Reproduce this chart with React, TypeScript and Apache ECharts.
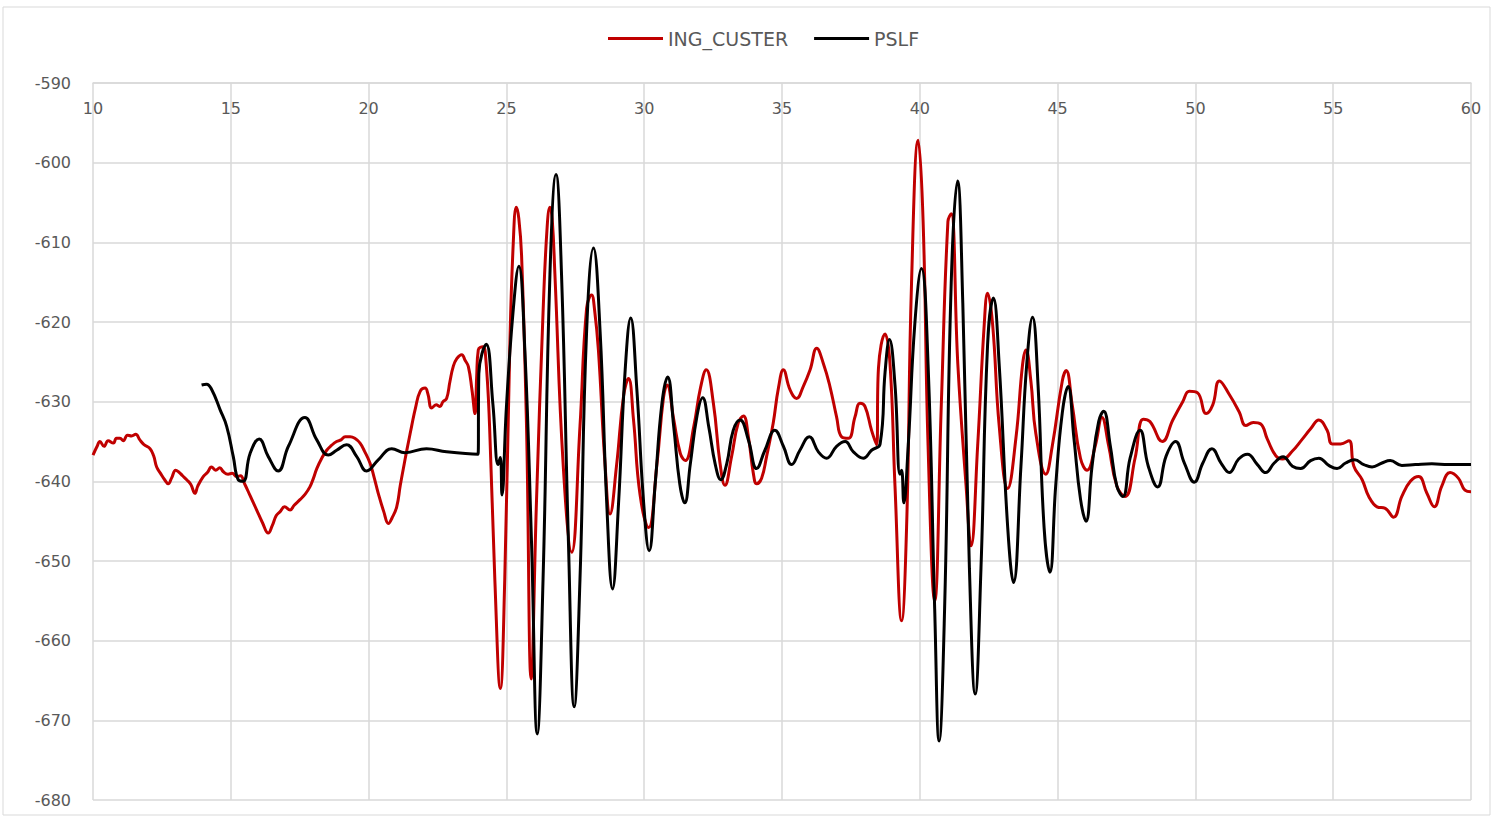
import React, { useEffect, useRef } from "react";
import * as echarts from "echarts";

const xTicks = [10, 15, 20, 25, 30, 35, 40, 45, 50, 55, 60];
const yTickMin = -680;
const yTickMax = -590;

const seriesNames = ["ING_CUSTER", "PSLF"];

const custerX = [
  10.0, 10.15, 10.25, 10.4, 10.55, 10.74, 10.85, 10.98, 11.1, 11.25, 11.4, 11.55, 11.7, 11.85,
  12.07, 12.2, 12.31, 12.45, 12.6, 12.73, 12.85, 13.0, 13.1, 13.25, 13.4, 13.55, 13.7, 13.8,
  14.0, 14.15, 14.3, 14.45, 14.6, 14.73, 14.9, 15.05, 15.21, 15.35, 15.5, 15.7, 15.94, 16.15,
  16.36, 16.5, 16.65, 16.79, 16.95, 17.15, 17.3, 17.51, 17.7, 17.87, 18.0, 18.12, 18.3, 18.48,
  18.65, 18.84, 19.0, 19.15, 19.33, 19.5, 19.69, 19.85, 20.05, 20.2, 20.35, 20.55, 20.72, 20.85,
  21.02, 21.15, 21.32, 21.45, 21.56, 21.7, 21.87, 22.05, 22.15, 22.29, 22.45, 22.59, 22.7, 22.83,
  22.95, 23.07, 23.2, 23.38, 23.5, 23.62, 23.75, 23.86, 23.92, 23.98, 24.15, 24.25, 24.39, 24.58,
  24.78, 24.94, 25.12, 25.25, 25.36, 25.45, 25.55, 25.73, 25.9, 26.09, 26.33, 26.48, 26.58, 26.66,
  26.76, 27.06, 27.37, 27.67, 27.91, 28.09, 28.2, 28.34, 28.58, 28.76, 29.0, 29.25, 29.43, 29.61,
  29.85, 30.16, 30.46, 30.7, 30.83, 31.07, 31.31, 31.49, 31.8, 32.04, 32.25, 32.51, 32.75, 32.93,
  33.17, 33.41, 33.6, 33.78, 33.96, 34.08, 34.26, 34.44, 34.68, 34.87, 35.05, 35.29, 35.53, 35.77,
  36.02, 36.26, 36.5, 36.74, 36.98, 37.16, 37.41, 37.65, 37.83, 38.01, 38.25, 38.43, 38.5, 38.74,
  38.92, 39.1, 39.34, 39.52, 39.7, 39.94, 40.12, 40.3, 40.54, 40.78, 41.02, 41.14, 41.38, 41.68,
  41.86, 42.1, 42.34, 42.46, 42.64, 42.88, 43.19, 43.49, 43.73, 43.85, 44.03, 44.21, 44.57, 44.81,
  45.17, 45.31, 45.53, 45.83, 46.07, 46.37, 46.61, 46.85, 47.15, 47.45, 47.81, 48.11, 48.35, 48.8,
  49.18, 49.54, 49.78, 50.08, 50.39, 50.63, 50.87, 51.23, 51.59, 51.83, 52.1, 52.37, 52.61, 52.92,
  53.16, 53.52, 53.88, 54.18, 54.48, 54.78, 54.96, 55.27, 55.57, 55.75, 56.05, 56.29, 56.59, 56.89,
  57.19, 57.49, 57.8, 58.1, 58.4, 58.67, 58.94, 59.24, 59.54, 59.78, 60.0,
];
const custerY = [
  -636.7, -635.6, -635.0, -635.6, -634.9, -635.2, -634.6, -634.6, -634.9, -634.2, -634.3, -634.1, -634.8, -635.4,
  -635.9, -636.8, -638.2, -639.0, -639.8, -640.3, -639.6, -638.6, -638.8, -639.3, -639.8, -640.4, -641.5, -640.6,
  -639.4, -638.9, -638.2, -638.6, -638.3, -638.8, -639.1, -639.0, -639.4, -639.3, -640.3, -641.8, -643.6, -645.2,
  -646.5, -645.6, -644.3, -643.8, -643.2, -643.6, -643.0, -642.3, -641.6, -640.7, -639.6, -638.4, -637.1, -636.1,
  -635.5, -635.0, -634.8, -634.4, -634.4, -634.6, -635.2, -636.2, -637.7, -639.5, -641.5, -643.8, -645.3, -644.6,
  -643.2, -640.5, -637.3, -635.0, -633.1, -630.8, -628.7, -628.3, -629.0, -630.8, -630.4, -630.6, -630.0, -629.6,
  -627.5, -625.6, -624.6, -624.1, -624.8, -625.6, -628.5, -631.5, -627.0, -623.5, -623.1, -624.5, -633.1, -652.3,
  -666.0, -652.3, -623.6, -610.0, -605.6, -607.0, -611.6, -633.1, -664.8, -642.7, -618.8, -608.0, -605.6, -607.0,
  -614.0, -637.9, -648.9, -633.1, -618.3, -616.6, -618.5, -623.6, -637.9, -644.1, -637.9, -629.3, -627.1, -632.2,
  -641.7, -645.8, -637.9, -629.5, -627.9, -632.2, -636.5, -637.4, -633.1, -628.3, -626.0, -630.2, -637.7, -640.5,
  -636.9, -632.7, -631.8, -634.4, -639.0, -640.3, -639.6, -636.9, -632.7, -628.3, -626.0, -628.5, -629.6, -628.1,
  -626.0, -623.3, -625.2, -628.1, -631.9, -634.4, -634.6, -631.9, -630.2, -630.6, -633.6, -635.4, -625.8, -621.5,
  -625.3, -640.6, -657.5, -645.8, -615.1, -597.2, -607.4, -635.5, -655.0, -630.4, -607.4, -606.4, -625.3, -640.6,
  -648.1, -635.5, -620.2, -616.4, -620.2, -633.0, -640.9, -634.5, -625.3, -623.5, -627.4, -634.0, -639.1, -635.5,
  -627.4, -626.1, -630.4, -637.1, -638.6, -635.5, -632.0, -635.5, -640.6, -641.9, -637.1, -632.2, -632.5, -635.0,
  -632.3, -630.0, -628.7, -628.9, -631.5, -630.4, -627.4, -629.1, -631.3, -633.0, -632.6, -632.8, -634.7, -636.8,
  -637.2, -636.2, -634.7, -633.4, -632.3, -633.6, -635.3, -635.3, -634.9, -638.1, -639.8, -641.9, -643.2, -643.4,
  -644.5, -641.9, -640.0, -639.4, -641.5, -643.2, -640.6, -638.9, -639.6, -641.1, -641.3,
];

const pslfX = [
  13.94, 14.12, 14.31, 14.61, 14.85, 15.09, 15.27, 15.45, 15.7, 16.03, 16.36, 16.72, 17.09, 17.69,
  18.12, 18.54, 18.84, 19.2, 19.57, 19.93, 20.35, 20.84, 21.32, 22.1, 22.83, 23.97, 24.0, 24.27,
  24.51, 24.7, 24.78, 24.84, 25.0, 25.24, 25.45, 25.67, 25.91, 26.12, 26.33, 26.58, 26.8, 27.0,
  27.25, 27.46, 27.67, 27.91, 28.16, 28.4, 28.64, 28.85, 29.07, 29.31, 29.51, 29.73, 29.98, 30.18,
  30.4, 30.64, 30.85, 31.07, 31.29, 31.47, 31.67, 31.92, 32.12, 32.34, 32.58, 32.78, 33.0, 33.23,
  33.48, 33.78, 34.08, 34.38, 34.74, 35.05, 35.35, 35.65, 35.99, 36.32, 36.62, 36.98, 37.29, 37.59,
  37.95, 38.25, 38.56, 38.74, 38.9, 39.1, 39.28, 39.34, 39.42, 39.58, 39.82, 40.06, 40.3, 40.54,
  40.7, 40.9, 41.14, 41.37, 41.56, 41.8, 42.01, 42.22, 42.46, 42.67, 42.88, 43.19, 43.4, 43.67,
  43.88, 44.09, 44.29, 44.51, 44.72, 44.93, 45.17, 45.38, 45.59, 45.83, 46.03, 46.25, 46.49, 46.67,
  46.91, 47.15, 47.37, 47.63, 47.99, 48.29, 48.63, 48.94, 49.28, 49.6, 49.96, 50.27, 50.6, 50.93,
  51.23, 51.57, 51.89, 52.25, 52.55, 52.86, 53.18, 53.52, 53.82, 54.18, 54.48, 54.84, 55.14, 55.45,
  55.78, 56.11, 56.41, 56.77, 57.07, 57.49, 57.98, 58.58, 59.18, 60.0,
];
const pslfY = [
  -627.9, -627.8, -628.5, -631.0, -633.1, -636.9, -639.8, -640.0, -636.5, -634.7, -636.9, -638.7, -635.6, -632.0,
  -634.8, -636.7, -636.1, -635.4, -636.9, -638.7, -637.3, -635.9, -636.4, -635.9, -636.3, -636.6, -626.5, -622.8,
  -630.3, -637.9, -637.0, -641.7, -630.7, -618.8, -613.0, -623.6, -647.5, -671.7, -652.3, -614.0, -601.5, -614.0,
  -647.5, -668.3, -652.3, -621.2, -610.7, -621.2, -642.7, -653.5, -642.7, -626.0, -619.5, -628.3, -642.7, -648.7,
  -640.3, -630.3, -626.9, -633.1, -640.3, -642.7, -637.9, -631.7, -629.5, -633.1, -637.9, -639.8, -637.7, -633.6,
  -632.3, -634.8, -638.4, -636.1, -633.6, -635.6, -637.9, -636.1, -634.4, -636.3, -637.1, -635.6, -635.0, -636.3,
  -637.1, -636.1, -635.3, -626.3, -622.2, -627.9, -639.1, -638.6, -642.7, -635.5, -620.2, -613.3, -625.3, -656.0,
  -672.6, -656.0, -615.1, -602.3, -617.6, -650.9, -666.7, -650.9, -622.8, -617.0, -625.3, -645.8, -652.7, -638.1,
  -625.3, -619.4, -627.9, -645.8, -651.4, -640.6, -631.4, -628.1, -634.5, -642.2, -645.0, -638.1, -632.5, -631.2,
  -635.5, -640.6, -641.9, -637.1, -633.6, -638.1, -640.7, -636.8, -635.0, -637.7, -640.1, -637.7, -635.9, -637.7,
  -638.9, -637.2, -636.6, -637.9, -638.9, -637.7, -636.9, -638.1, -638.4, -637.4, -637.1, -638.0, -638.4, -637.7,
  -637.3, -637.9, -638.2, -637.7, -637.4, -638.0, -637.9, -637.8, -637.9, -637.9,
];

const zip = (xs: number[], ys: number[]) => xs.map((x, i) => [x, ys[i]]);

export default function App() {
  const ref = useRef<HTMLDivElement>(null);

  useEffect(() => {
    document.body.style.margin = "0";
    if (!ref.current) return;
    const chart = echarts.init(ref.current, undefined, { renderer: "svg" });
    const labelColor = "#595959";
    const gridColor = "#d9d9d9";
    const font = "DejaVu Sans";
    chart.setOption({
      animation: false,
      backgroundColor: "#ffffff",
      graphic: [
        {
          type: "rect",
          shape: { x: 3, y: 7, width: 1487, height: 808 },
          style: { fill: "none", stroke: gridColor, lineWidth: 1 },
          silent: true,
        },
      ],
      legend: {
        top: 24,
        left: 603,
        itemWidth: 55,
        itemHeight: 3,
        itemGap: 26,
        icon: "rect",
        textStyle: { color: labelColor, fontSize: 19, fontFamily: font },
        data: seriesNames,
      },
      grid: { left: 93, right: 27, top: 83, bottom: 22, containLabel: false },
      xAxis: {
        type: "value",
        position: "top",
        min: xTicks[0],
        max: xTicks[xTicks.length - 1],
        interval: 5,
        axisLine: { show: true, lineStyle: { color: gridColor, width: 1.5 } },
        axisTick: { show: false },
        axisLabel: {
          inside: true,
          margin: 17,
          color: labelColor,
          fontSize: 16,
          fontFamily: font,
        },
        splitLine: { show: true, lineStyle: { color: gridColor, width: 1.5 } },
      },
      yAxis: {
        type: "value",
        min: yTickMin,
        max: yTickMax,
        interval: 10,
        axisLine: { show: false },
        axisTick: { show: false },
        axisLabel: { margin: 22, color: labelColor, fontSize: 16, fontFamily: font },
        splitLine: { show: true, lineStyle: { color: gridColor, width: 1.5 } },
      },
      series: [
        {
          name: seriesNames[0],
          type: "line",
          data: zip(custerX, custerY),
          symbol: "none",
          smooth: 0.45,
          lineStyle: { color: "#c00000", width: 3 },
          itemStyle: { color: "#c00000" },
          z: 2,
        },
        {
          name: seriesNames[1],
          type: "line",
          data: zip(pslfX, pslfY),
          symbol: "none",
          smooth: 0.45,
          lineStyle: { color: "#000000", width: 3 },
          itemStyle: { color: "#000000" },
          z: 3,
        },
      ],
    });
    return () => chart.dispose();
  }, []);

  return <div ref={ref} style={{ width: 1498, height: 822 }} />;
}
